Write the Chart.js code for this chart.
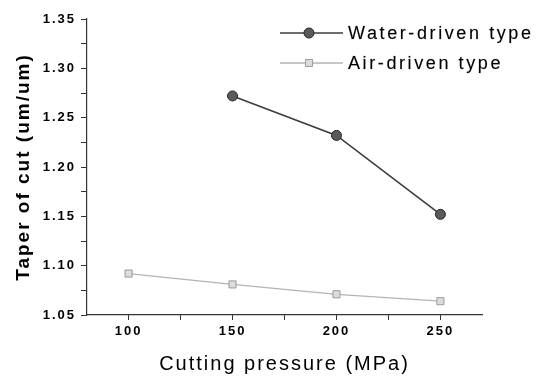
<!DOCTYPE html>
<html>
<head>
<meta charset="utf-8">
<script src="https://cdn.jsdelivr.net/npm/chart.js@4.4.0/dist/chart.umd.min.js"></script>
<style>
  html, body { margin: 0; padding: 0; background: #fff; }
  #wrap { width: 559px; height: 376px; }
</style>
</head>
<body>
<div id="wrap"><canvas id="taperChart"></canvas></div>
<script>
// Values
const pressure = [100, 150, 200, 250];
const waterDriven = [null, 1.272, 1.232, 1.152];
const airDriven = [1.092, 1.081, 1.071, 1.064];
const seriesNames = ['Water-driven type', 'Air-driven type'];

const xTicks = [100, 125, 150, 175, 200, 225, 250];
const xTickLabels = ['100', '', '150', '', '200', '', '250'];
const yTicks = [1.05, 1.075, 1.10, 1.125, 1.15, 1.175, 1.20, 1.225, 1.25, 1.275, 1.30, 1.325, 1.35];
const yTickLabels = ['1.05', '', '1.10', '', '1.15', '', '1.20', '', '1.25', '', '1.30', '', '1.35'];

const FONT = '"Liberation Sans", Arial, sans-serif';

function toPoints(values) {
  return pressure
    .map((p, i) => ({ x: p, y: values[i] }))
    .filter(pt => pt.y !== null);
}

// legend sits inside the plot, top right
const insideLegend = {
  id: 'insideLegend',
  beforeDraw(chart) {
    chart.ctx.letterSpacing = '2px';
  },
  afterDraw(chart) {
    const ctx = chart.ctx;
    ctx.save();
    ctx.letterSpacing = '2.6px';
    ctx.font = '18px ' + FONT;
    ctx.textBaseline = 'middle';
    ctx.textAlign = 'left';
    chart.data.datasets.forEach((ds, i) => {
      const y = 33 + i * 30;
      ctx.strokeStyle = ds.borderColor;
      ctx.lineWidth = ds.borderWidth;
      ctx.beginPath();
      ctx.moveTo(280, y);
      ctx.lineTo(343, y);
      ctx.stroke();
      ctx.fillStyle = ds.pointBackgroundColor;
      ctx.strokeStyle = ds.pointBorderColor;
      ctx.lineWidth = 1;
      Chart.helpers.drawPoint(ctx, { pointStyle: ds.pointStyle, radius: ds.pointRadius, borderWidth: 1, rotation: 0 }, 309, y);
      ctx.fillStyle = '#000';
      ctx.strokeStyle = 'rgba(0,0,0,0.35)';
      ctx.lineWidth = 0.4;
      ctx.fillText(ds.label, 348, y + 1);
      ctx.strokeText(ds.label, 348, y + 1);
    });
    ctx.restore();
  }
};

new Chart(document.getElementById('taperChart'), {
  type: 'line',
  data: {
    datasets: [
      {
        label: seriesNames[0],
        data: toPoints(waterDriven),
        borderColor: '#3c3c3c',
        borderWidth: 1.6,
        pointStyle: 'circle',
        pointRadius: 5,
        pointBackgroundColor: '#5a5a5a',
        pointBorderColor: '#262626',
        pointBorderWidth: 1
      },
      {
        label: seriesNames[1],
        data: toPoints(airDriven),
        borderColor: '#b4b4b4',
        borderWidth: 1.3,
        pointStyle: 'rect',
        pointRadius: 5,
        pointBackgroundColor: '#dcdcdc',
        pointBorderColor: '#9a9a9a',
        pointBorderWidth: 1
      }
    ]
  },
  options: {
    responsive: true,
    maintainAspectRatio: false,
    animation: false,
    layout: { padding: { top: 19, right: 77, bottom: 0, left: 0 } },
    plugins: {
      legend: { display: false },
      tooltip: { enabled: false }
    },
    scales: {
      x: {
        type: 'linear',
        min: 80,
        max: 270,
        afterBuildTicks: s => { s.ticks = xTicks.map(v => ({ value: v })); },
        afterFit: s => { s.height = 61; },
        border: { color: '#333', width: 1.2 },
        grid: { drawOnChartArea: false, drawTicks: true, tickLength: 5, color: '#333' },
        ticks: {
          autoSkip: false,
          maxRotation: 0,
          padding: 4,
          color: '#000',
          font: { family: FONT, size: 13, weight: 'bold' },
          callback: (v, i) => xTickLabels[i]
        },
        title: {
          display: true,
          text: 'Cutting pressure (MPa)',
          color: '#000',
          font: { family: FONT, size: 20 },
          padding: { top: 0, bottom: 0 }
        }
      },
      y: {
        type: 'linear',
        min: 1.05,
        max: 1.35,
        afterBuildTicks: s => { s.ticks = yTicks.map(v => ({ value: v })); },
        afterFit: s => { s.width = 87; },
        border: { color: '#333', width: 1.2 },
        grid: { drawOnChartArea: false, drawTicks: true, tickLength: 6, color: '#333' },
        ticks: {
          autoSkip: false,
          padding: 5,
          color: '#000',
          font: { family: FONT, size: 13, weight: 'bold' },
          callback: (v, i) => yTickLabels[i]
        },
        title: {
          display: true,
          text: 'Taper of cut (um/um)',
          color: '#000',
          font: { family: FONT, size: 19, weight: 'bold' },
          padding: { top: 12, bottom: 0 }
        }
      }
    }
  },
  plugins: [insideLegend]
});
</script>
</body>
</html>
